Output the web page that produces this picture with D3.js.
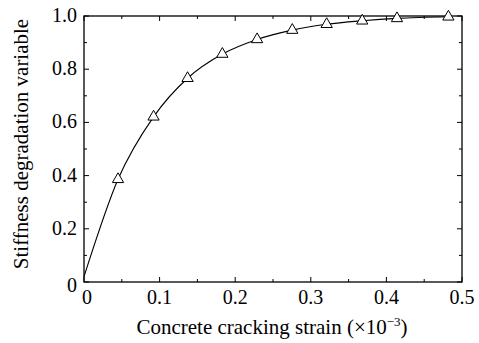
<!DOCTYPE html>
<html>
<head>
<meta charset="utf-8">
<script src="https://cdn.jsdelivr.net/npm/d3@7"></script>
<style>
  body { margin: 0; background: #fff; }
  text { font-family: 'Liberation Serif', 'Times New Roman', serif; fill: #000; }
</style>
</head>
<body>
<svg id="chart" width="479" height="343"></svg>
<script>
// strain (x10^-3) and stiffness degradation values
const strain = [0.045, 0.092, 0.137, 0.183, 0.229, 0.2755, 0.321, 0.368, 0.414, 0.482]
const damage = [0.386, 0.621, 0.766, 0.857, 0.912, 0.947, 0.969, 0.982, 0.991, 0.997]
const curveStrain = [0, 0.045, 0.092, 0.137, 0.183, 0.229, 0.2755, 0.321, 0.368, 0.414, 0.482]
const curveDamage = [0.02, 0.386, 0.621, 0.766, 0.857, 0.912, 0.947, 0.969, 0.982, 0.991, 0.997]
const xTicks = [0, 0.1, 0.2, 0.3, 0.4, 0.5]
const xTickLabels = ['0', '0.1', '0.2', '0.3', '0.4', '0.5']
const yTicks = [0, 0.2, 0.4, 0.6, 0.8, 1.0]
const yTickLabels = ['0', '0.2', '0.4', '0.6', '0.8', '1.0']
const xMinor = [0.05, 0.15, 0.25, 0.35, 0.45]
const yMinor = [0.1, 0.3, 0.5, 0.7, 0.9]

const margin = { top: 16, right: 17, bottom: 61, left: 84 },
  w = 479 - margin.left - margin.right,
  h = 343 - margin.top - margin.bottom

const svg = d3.select('#chart')
  .append('g')
  .attr('transform', `translate(${margin.left},${margin.top})`)

const x = d3.scaleLinear().domain([0, 0.5]).range([0, w])
const y = d3.scaleLinear().domain([0, 1]).range([h, 0])

// frame
svg.append('rect')
  .attr('width', w).attr('height', h)
  .attr('fill', 'none').attr('stroke', '#000').attr('stroke-width', 1.3)

// inward ticks, mirrored on all four sides
const major = 5, minor = 3
function tickLines(vals, len, side) {
  svg.append('g').selectAll('line').data(vals).enter().append('line')
    .attr('stroke', '#000').attr('stroke-width', 1)
    .attr('x1', (d) => side === 'b' || side === 't' ? x(d) : (side === 'l' ? 0 : w))
    .attr('x2', (d) => side === 'b' || side === 't' ? x(d) : (side === 'l' ? len : w - len))
    .attr('y1', (d) => side === 'l' || side === 'r' ? y(d) : (side === 'b' ? h : 0))
    .attr('y2', (d) => side === 'l' || side === 'r' ? y(d) : (side === 'b' ? h - len : len))
}
tickLines(xTicks, major, 'b'); tickLines(xMinor, minor, 'b')
tickLines(xTicks, major, 't'); tickLines(xMinor, minor, 't')
tickLines(yTicks, major, 'l'); tickLines(yMinor, minor, 'l')
tickLines(yTicks, major, 'r'); tickLines(yMinor, minor, 'r')

// tick labels
svg.append('g').selectAll('text').data(xTicks).enter().append('text')
  .attr('x', (d) => x(d) + (d === 0 ? 3 : 0))
  .attr('y', h + 22)
  .attr('text-anchor', 'middle')
  .attr('font-size', 20)
  .text((d, i) => xTickLabels[i])

svg.append('g').selectAll('text').data(yTicks).enter().append('text')
  .attr('x', -7)
  .attr('y', (d) => y(d) + (d === 0 ? 10 : 6))
  .attr('text-anchor', 'end')
  .attr('font-size', 20)
  .text((d, i) => yTickLabels[i])

// axis titles
const xt = svg.append('text')
  .attr('x', w / 2 - 1)
  .attr('y', h + 52)
  .attr('text-anchor', 'middle')
  .attr('font-size', 21)
xt.append('tspan').text('Concrete cracking strain (\u00d710')
xt.append('tspan').attr('dy', -8).attr('font-size', 13).text('\u22123')
xt.append('tspan').attr('dy', 8).text(')')

svg.append('text')
  .attr('transform', `translate(${-56},${h / 2 - 5}) rotate(-90)`)
  .attr('text-anchor', 'middle')
  .attr('font-size', 21)
  .text('Stiffness degradation variable')

// curve
const line = d3.line()
  .x((d, i) => x(curveStrain[i]))
  .y((d) => y(d))
  .curve(d3.curveMonotoneX)
svg.append('path')
  .datum(curveDamage)
  .attr('fill', 'none')
  .attr('stroke', '#000')
  .attr('stroke-width', 1.1)
  .attr('d', line)

// open triangle markers
const tri = d3.symbol().type(d3.symbolTriangle).size(55)
svg.append('g').selectAll('path').data(damage).enter().append('path')
  .attr('d', tri)
  .attr('transform', (d, i) => `translate(${x(strain[i])},${y(d)})`)
  .attr('fill', '#fff')
  .attr('stroke', '#000')
  .attr('stroke-width', 1)
</script>
</body>
</html>
